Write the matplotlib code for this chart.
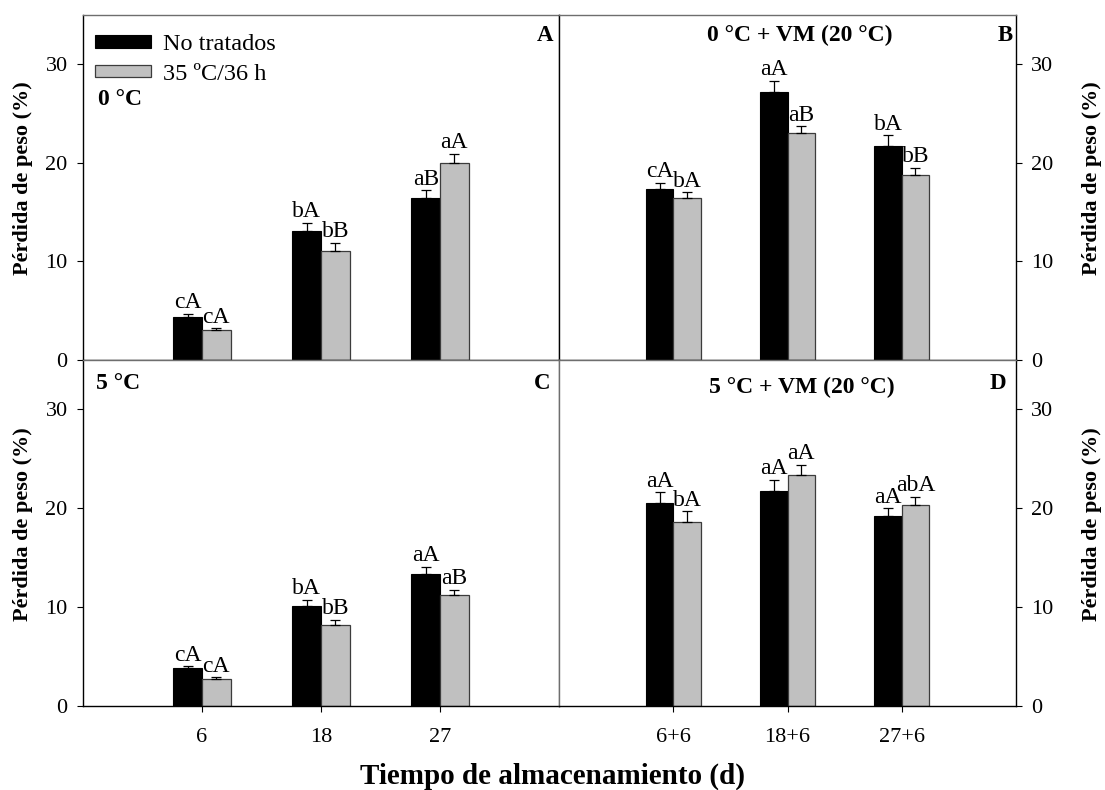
import numpy as np
import matplotlib
matplotlib.use("Agg")
from matplotlib import pyplot as plt

plt.rcParams['font.family'] = ['Liberation Serif', 'DejaVu Serif']

dias = ["6", "18", "27"]
dias_vm = ["6+6", "18+6", "27+6"]
series = ["No tratados", "35 ºC/36 h"]

# A: 0 °C
a_nt = [4.4, 13.1, 16.4]
a_nt_err = [0.25, 0.8, 0.8]
a_tt = [3.0, 11.1, 19.95]
a_tt_err = [0.2, 0.8, 0.95]
a_nt_let = ["cA", "bA", "aB"]
a_tt_let = ["cA", "bB", "aA"]

# B: 0 °C + VM
b_nt = [17.3, 27.2, 21.7]
b_nt_err = [0.65, 1.1, 1.1]
b_tt = [16.4, 23.0, 18.8]
b_tt_err = [0.6, 0.7, 0.7]
b_nt_let = ["cA", "aA", "bA"]
b_tt_let = ["bA", "aB", "bB"]

# C: 5 °C
c_nt = [3.8, 10.1, 13.4]
c_nt_err = [0.2, 0.65, 0.65]
c_tt = [2.7, 8.2, 11.2]
c_tt_err = [0.2, 0.55, 0.55]
c_nt_let = ["cA", "bA", "aA"]
c_tt_let = ["cA", "bB", "aB"]

# D: 5 °C + VM
d_nt = [20.5, 21.7, 19.2]
d_nt_err = [1.1, 1.15, 0.8]
d_tt = [18.6, 23.4, 20.3]
d_tt_err = [1.1, 1.0, 0.85]
d_nt_let = ["aA", "aA", "aA"]
d_tt_let = ["bA", "aA", "abA"]

W, H = 1105, 790
fig = plt.figure(figsize=(W / 100, H / 100), dpi=100)

def box(x0, y0, x1, y1):
    return [x0 / W, 1 - y1 / H, (x1 - x0) / W, (y1 - y0) / H]

axA = fig.add_axes(box(83, 15, 559, 360))
axB = fig.add_axes(box(559, 15, 1016, 360))
axC = fig.add_axes(box(83, 360, 559, 706))
axD = fig.add_axes(box(559, 360, 1016, 706))

bw = 0.24
gris = "#c0c0c0"
marco = "#6e6e6e"

def panel(ax, nt, nt_err, tt, tt_err, nt_let, tt_let, labels, side, bottom):
    x = np.arange(1, len(nt) + 1)
    ax.bar(x - bw / 2, nt, bw, color="black", edgecolor="black", linewidth=0.8,
           label=series[0], zorder=2)
    ax.bar(x + bw / 2, tt, bw, color=gris, edgecolor="#3c3c3c", linewidth=0.9,
           label=series[1], zorder=2)
    ax.errorbar(x - bw / 2, nt, yerr=[np.zeros(len(nt)), nt_err], fmt="none",
                ecolor="black", elinewidth=0.9, capsize=3.7, capthick=0.9, zorder=3)
    ax.errorbar(x + bw / 2, tt, yerr=[np.zeros(len(tt)), tt_err], fmt="none",
                ecolor="black", elinewidth=0.9, capsize=3.7, capthick=0.9, zorder=3)
    for xi, v, e, t in zip(x - bw / 2, nt, nt_err, nt_let):
        ax.annotate(t, (xi, v + e), xytext=(0, 0.5), textcoords="offset points",
                    ha="center", va="bottom", fontsize=17)
    for xi, v, e, t in zip(x + bw / 2, tt, tt_err, tt_let):
        ax.annotate(t, (xi, v + e), xytext=(0, 0.5), textcoords="offset points",
                    ha="center", va="bottom", fontsize=17)
    ax.set_xlim(0, 4)
    ax.set_ylim(0, 35)
    ax.set_yticks([0, 10, 20, 30])
    for s in ax.spines.values():
        s.set_color(marco)
        s.set_linewidth(1.0)
    ax.spines["bottom"].set_color("black")
    ax.spines[side].set_color("black")
    if side == "right":
        ax.yaxis.tick_right()
    ax.tick_params(axis="y", direction="out", length=4, width=0.8,
                   labelsize=16, pad=7)
    if bottom:
        ax.set_xticks(x)
        ax.set_xticklabels(labels)
        ax.tick_params(axis="x", direction="out", length=4, width=0.8,
                       labelsize=16, pad=11.5)
    else:
        ax.set_xticks([])

panel(axA, a_nt, a_nt_err, a_tt, a_tt_err, a_nt_let, a_tt_let, dias, "left", False)
panel(axB, b_nt, b_nt_err, b_tt, b_tt_err, b_nt_let, b_tt_let, dias_vm, "right", False)
panel(axC, c_nt, c_nt_err, c_tt, c_tt_err, c_nt_let, c_tt_let, dias, "left", True)
panel(axD, d_nt, d_nt_err, d_tt, d_tt_err, d_nt_let, d_tt_let, dias_vm, "right", True)

# the divider between A and B is drawn in black
axB.spines["left"].set_color("black")

axA.legend(loc="upper left", bbox_to_anchor=(0.0, 0.98), frameon=False,
           fontsize=17.5, handlelength=2.3, handleheight=0.4,
           handletextpad=0.5, labelspacing=0.35, borderaxespad=0.1)

# panel tags and conditions
axA.text(0.032, 0.755, "0 °C", transform=axA.transAxes, fontsize=17,
         fontweight="bold", va="center", ha="left")
axA.text(0.987, 0.942, "A", transform=axA.transAxes, fontsize=16.5,
         fontweight="bold", va="center", ha="right")
axB.text(0.527, 0.942, "0 °C + VM (20 °C)", transform=axB.transAxes, fontsize=17,
         fontweight="bold", va="center", ha="center")
axB.text(0.993, 0.942, "B", transform=axB.transAxes, fontsize=16.5,
         fontweight="bold", va="center", ha="right")
axC.text(0.028, 0.933, "5 °C", transform=axC.transAxes, fontsize=17,
         fontweight="bold", va="center", ha="left")
axC.text(0.981, 0.933, "C", transform=axC.transAxes, fontsize=16.5,
         fontweight="bold", va="center", ha="right")
axD.text(0.532, 0.922, "5 °C + VM (20 °C)", transform=axD.transAxes, fontsize=17,
         fontweight="bold", va="center", ha="center")
axD.text(0.978, 0.933, "D", transform=axD.transAxes, fontsize=16.5,
         fontweight="bold", va="center", ha="right")

ylab = "Pérdida de peso (%)"
for xp, yp in [(23, 178), (23, 524), (1092, 178), (1092, 524)]:
    fig.text(xp / W, 1 - yp / H, ylab, rotation=90, ha="center", va="center",
             fontsize=16, fontweight="bold")

fig.text(552 / W, 1 - 776 / H, "Tiempo de almacenamiento (d)", ha="center",
         va="center", fontsize=21, fontweight="bold")

fig.savefig("out.png", dpi=100)
